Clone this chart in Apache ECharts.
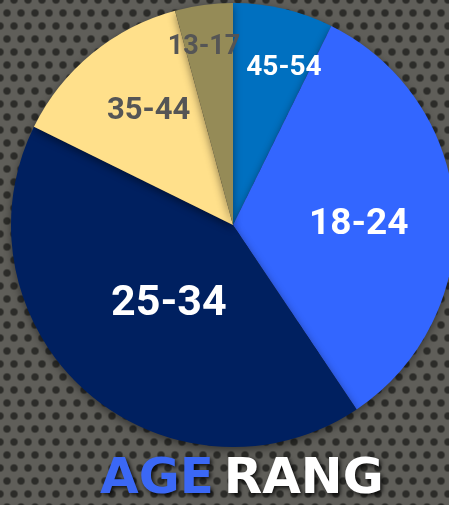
<!DOCTYPE html>
<html>
<head>
<meta charset="utf-8">
<script src="https://cdn.jsdelivr.net/npm/echarts@6/dist/echarts.min.js"></script>
<style>
html,body{margin:0;padding:0;width:449px;height:505px;overflow:hidden;}
body{
  background-color:#5f5e59;
  background-image:
    radial-gradient(circle at center, #2c2c29 0, #2c2c29 2.8px, rgba(0,0,0,0) 4.6px),
    radial-gradient(circle at center, #2c2c29 0, #2c2c29 2.8px, rgba(0,0,0,0) 4.6px);
  background-size:14px 26px,14px 26px;
  background-position:0 0,7px 13px;
}
#chart{width:449px;height:505px;}
</style>
</head>
<body>
<div id="chart"></div>
<script>
// Data
var categories = ['45-54', '18-24', '25-34', '35-44', '13-17'];
var values = [7.3, 33.3, 41.7, 13.5, 4.2];

// Styles (kept separate from data)
var sliceColors = ['#0070c0', '#3366ff', '#002060', '#ffe08b', '#958b57'];
var labelColors = ['#ffffff', '#ffffff', '#ffffff', '#555555', '#555555'];
var labelSizes = [28, 37, 43, 31, 27];
var labelOffsets = [[25, -46], [12, 7], [11, -6], [-12, -26], [-14, -65]];

var chart = echarts.init(document.getElementById('chart'), null, {renderer: 'canvas'});
var data = categories.map(function (c, i) {
  return {
    name: c,
    value: values[i],
    itemStyle: {color: sliceColors[i]},
    label: {
      color: labelColors[i],
      fontSize: labelSizes[i],
      offset: labelOffsets[i]
    }
  };
});

var titleFont = {fontSize: 50, fontWeight: 'bold', fontFamily: 'DejaVu Sans',
  textShadowColor: 'rgba(0,0,0,0.85)', textShadowBlur: 4, textShadowOffsetX: 2, textShadowOffsetY: 2};

chart.setOption({
  backgroundColor: 'transparent',
  animation: false,
  title: {
    text: '{a|AGE}{s| }{b|RANG}',
    left: 100,
    top: 455,
    padding: 0,
    textStyle: {
      rich: {
        a: Object.assign({color: '#3b68f5'}, titleFont),
        s: {fontSize: 28, fontFamily: 'DejaVu Sans'},
        b: Object.assign({color: '#ffffff'}, titleFont)
      }
    }
  },
  series: [{
    type: 'pie',
    center: [233, 225],
    radius: [0, 222],
    startAngle: 90,
    clockwise: true,
    avoidLabelOverlap: false,
    itemStyle: {
      shadowColor: 'rgba(0,0,0,0.45)',
      shadowBlur: 8,
      shadowOffsetY: 3
    },
    label: {
      show: true,
      position: 'inside',
      fontFamily: 'Roboto',
      fontWeight: 'bold',
      formatter: '{b}'
    },
    labelLine: {show: false},
    emphasis: {disabled: true},
    data: data
  }]
});
</script>
</body>
</html>
